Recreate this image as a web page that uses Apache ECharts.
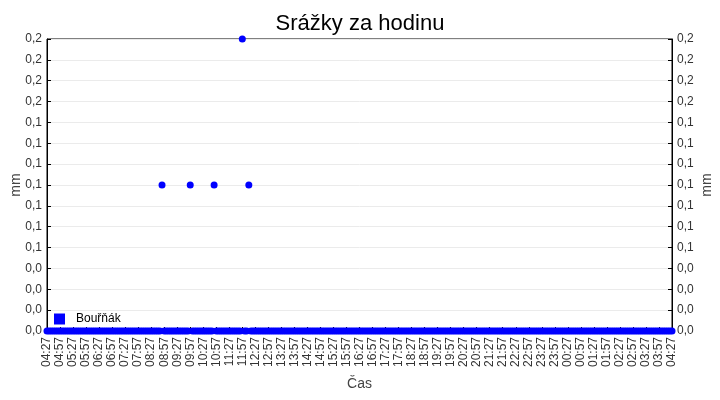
<!DOCTYPE html>
<html>
<head>
<meta charset="utf-8">
<script src="https://cdn.jsdelivr.net/npm/echarts@6/dist/echarts.min.js"></script>
<style>html,body{margin:0;padding:0;background:#fff}#c{width:720px;height:400px}</style>
</head>
<body>
<div id="c"></div>
<script>
const times = [
"04:27","04:32","04:37","04:42","04:47","04:52","04:57",
"05:02","05:07","05:12","05:17","05:22","05:27","05:32","05:37","05:42","05:47","05:52","05:57",
"06:02","06:07","06:12","06:17","06:22","06:27","06:32","06:37","06:42","06:47","06:52","06:57",
"07:02","07:07","07:12","07:17","07:22","07:27","07:32","07:37","07:42","07:47","07:52","07:57",
"08:02","08:07","08:12","08:17","08:22","08:27","08:32","08:37","08:42","08:47","08:52","08:57",
"09:02","09:07","09:12","09:17","09:22","09:27","09:32","09:37","09:42","09:47","09:52","09:57",
"10:02","10:07","10:12","10:17","10:22","10:27","10:32","10:37","10:42","10:47","10:52","10:57",
"11:02","11:07","11:12","11:17","11:22","11:27","11:32","11:37","11:42","11:47","11:52","11:57",
"12:02","12:07","12:12","12:17","12:22","12:27","12:32","12:37","12:42","12:47","12:52","12:57",
"13:02","13:07","13:12","13:17","13:22","13:27","13:32","13:37","13:42","13:47","13:52","13:57",
"14:02","14:07","14:12","14:17","14:22","14:27","14:32","14:37","14:42","14:47","14:52","14:57",
"15:02","15:07","15:12","15:17","15:22","15:27","15:32","15:37","15:42","15:47","15:52","15:57",
"16:02","16:07","16:12","16:17","16:22","16:27","16:32","16:37","16:42","16:47","16:52","16:57",
"17:02","17:07","17:12","17:17","17:22","17:27","17:32","17:37","17:42","17:47","17:52","17:57",
"18:02","18:07","18:12","18:17","18:22","18:27","18:32","18:37","18:42","18:47","18:52","18:57",
"19:02","19:07","19:12","19:17","19:22","19:27","19:32","19:37","19:42","19:47","19:52","19:57",
"20:02","20:07","20:12","20:17","20:22","20:27","20:32","20:37","20:42","20:47","20:52","20:57",
"21:02","21:07","21:12","21:17","21:22","21:27","21:32","21:37","21:42","21:47","21:52","21:57",
"22:02","22:07","22:12","22:17","22:22","22:27","22:32","22:37","22:42","22:47","22:52","22:57",
"23:02","23:07","23:12","23:17","23:22","23:27","23:32","23:37","23:42","23:47","23:52","23:57",
"00:02","00:07","00:12","00:17","00:22","00:27","00:32","00:37","00:42","00:47","00:52","00:57",
"01:02","01:07","01:12","01:17","01:22","01:27","01:32","01:37","01:42","01:47","01:52","01:57",
"02:02","02:07","02:12","02:17","02:22","02:27","02:32","02:37","02:42","02:47","02:52","02:57",
"03:02","03:07","03:12","03:17","03:22","03:27","03:32","03:37","03:42","03:47","03:52","03:57",
"04:02","04:07","04:12","04:17","04:22","04:27"
];
const rain = [
0,0,0,0,0,0,0,
0,0,0,0,0,0,0,0,0,0,0,0,
0,0,0,0,0,0,0,0,0,0,0,0,
0,0,0,0,0,0,0,0,0,0,0,0,
0,0,0,0,0,0,0,0,0,0,0.1,0,
0,0,0,0,0,0,0,0,0,0,0,0.1,
0,0,0,0,0,0,0,0,0,0,0.1,0,
0,0,0,0,0,0,0,0,0,0,0,0.2,
0,0,0.1,0,0,0,0,0,0,0,0,0,
0,0,0,0,0,0,0,0,0,0,0,0,
0,0,0,0,0,0,0,0,0,0,0,0,
0,0,0,0,0,0,0,0,0,0,0,0,
0,0,0,0,0,0,0,0,0,0,0,0,
0,0,0,0,0,0,0,0,0,0,0,0,
0,0,0,0,0,0,0,0,0,0,0,0,
0,0,0,0,0,0,0,0,0,0,0,0,
0,0,0,0,0,0,0,0,0,0,0,0,
0,0,0,0,0,0,0,0,0,0,0,0,
0,0,0,0,0,0,0,0,0,0,0,0,
0,0,0,0,0,0,0,0,0,0,0,0,
0,0,0,0,0,0,0,0,0,0,0,0,
0,0,0,0,0,0,0,0,0,0,0,0,
0,0,0,0,0,0,0,0,0,0,0,0,
0,0,0,0,0,0,0,0,0,0,0,0,
0,0,0,0,0,0
];
const seriesName = "Bouřňák";
const yMin = 0, yMax = 0.2, yStep = 0.2 / 14;

const fmt = v => v.toFixed(1).replace('.', ',');
const font = '"Liberation Sans", Arial, sans-serif';
const yAxisCommon = {
  type: 'value', min: yMin, max: yMax, interval: yStep,
  name: 'mm', nameLocation: 'middle', nameGap: 24, nameMoveOverlap: false,
  nameTextStyle: { fontSize: 14, color: '#444', fontFamily: font },
  axisLine: { show: true, lineStyle: { color: '#000', width: 1 } },
  axisTick: { show: true, inside: true, length: 4, lineStyle: { color: '#000' } },
  axisLabel: { formatter: fmt, fontSize: 12, color: '#333', fontFamily: font, margin: 5 },
  splitLine: { show: true, lineStyle: { color: '#ebebeb', width: 1 } }
};
const chart = echarts.init(document.getElementById('c'), null, { renderer: 'canvas' });
chart.setOption({
  animation: false,
  backgroundColor: '#fff',
  title: {
    text: 'Srážky za hodinu', left: 'center', top: 8,
    textStyle: { fontSize: 22, fontWeight: 'normal', color: '#000', fontFamily: font }
  },
  legend: {
    left: 49, top: 308, itemWidth: 11, itemHeight: 11, icon: 'rect', itemGap: 5,
    textStyle: { fontSize: 12, color: '#000', fontFamily: font, padding: [0, 0, 0, 6] },
    data: [seriesName]
  },
  grid: {
    left: 47, right: 48, top: 39, bottom: 69,
    containLabel: false, outerBoundsMode: 'none',
    show: true, borderColor: '#000', borderWidth: 1, backgroundColor: '#fff'
  },
  xAxis: {
    type: 'category', data: times, boundaryGap: false,
    name: 'Čas', nameLocation: 'middle', nameGap: 46, nameMoveOverlap: false,
    nameTextStyle: { fontSize: 14, color: '#444', fontFamily: font },
    axisLine: { lineStyle: { color: '#000' } },
    axisTick: { show: true, inside: true, length: 4, interval: 5, lineStyle: { color: '#000' } },
    axisLabel: { interval: 5, rotate: 90, fontSize: 12, color: '#333', fontFamily: font, margin: 6 },
    splitLine: { show: false }
  },
  yAxis: [
    Object.assign({}, yAxisCommon, { position: 'left' }),
    Object.assign({}, yAxisCommon, { position: 'right', nameGap: 28, splitLine: { show: false } })
  ],
  series: [{
    name: seriesName, type: 'scatter', data: rain, yAxisIndex: 0,
    symbol: 'circle', symbolSize: 7, clip: false,
    itemStyle: { color: '#0000ff', opacity: 1 }
  }]
});
</script>
</body>
</html>
